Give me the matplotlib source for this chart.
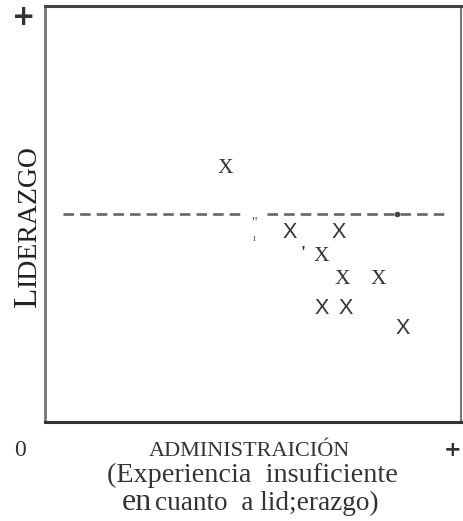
import matplotlib.pyplot as plt

# X marks (data units, 0-10 on both axes)
x_vals = [4.34, 5.88, 7.05, 6.64, 7.15, 8.01, 6.64, 7.22, 8.59]
y_vals = [6.09, 4.56, 4.56, 3.98, 3.43, 3.43, 2.73, 2.73, 2.25]
x_fonts = ['Liberation Serif', 'Liberation Sans', 'Liberation Sans', 'Liberation Serif',
           'Liberation Serif', 'Liberation Serif', 'Liberation Sans', 'Liberation Sans',
           'Liberation Sans']

mid_level = 5.0
line_left = [0.43, 4.82]
line_right = [5.33, 9.61]

W, H = 463, 521
fig = plt.figure(figsize=(W / 100, H / 100), dpi=100)
ax = fig.add_axes([45 / W, (H - 422) / H, 416 / W, 416 / H])
ax.set_xlim(0, 10)
ax.set_ylim(0, 10)
ax.set_xticks([])
ax.set_yticks([])

ax.spines['left'].set_color('#777777')
ax.spines['left'].set_linewidth(2.0)
ax.spines['right'].set_color('#777777')
ax.spines['right'].set_linewidth(1.5)
ax.spines['top'].set_color('#444444')
ax.spines['top'].set_linewidth(2.2)
ax.spines['bottom'].set_color('#333333')
ax.spines['bottom'].set_linewidth(2.2)

# dashed mid line
ax.plot(line_left, [mid_level, mid_level], color='#666666', lw=1.9,
        linestyle=(0, (4, 2.3)))
ax.plot(line_right, [mid_level, mid_level], color='#666666', lw=1.9,
        linestyle=(0, (4, 2.3)))
ax.plot([8.47], [mid_level], marker='o', ms=3, color='#444444')

for x, y, f in zip(x_vals, y_vals, x_fonts):
    ax.text(x, y, 'X', family=f, fontsize=15.5, color='#333333',
            ha='center', va='center')

# scanning artefacts
ax.text(5.03, 4.78, '"', family='Liberation Serif', fontsize=10, color='#555555',
        ha='center', va='center')
ax.text(5.03, 4.4, 'ı', family='Liberation Serif', fontsize=7, color='#555555',
        ha='center', va='center')
ax.text(6.2, 4.02, "'", family='Liberation Serif', fontsize=13, color='#333333',
        ha='center', va='center', fontweight='bold')

# y label in small caps
fig.text(36 / W, (H - 307) / H, 'L', family='Liberation Serif', fontsize=24,
         color='#222222', rotation=90, rotation_mode='anchor',
         ha='left', va='baseline')
fig.text(36 / W, (H - 287) / H, 'IDERAZGO', family='Liberation Serif', fontsize=20,
         color='#222222', rotation=90, rotation_mode='anchor',
         ha='left', va='baseline')

fig.text(24 / W, (H - 17) / H, '+', family='DejaVu Sans', fontsize=20,
         fontweight='bold', color='#333333', ha='center', va='center')
fig.text(453 / W, (H - 450) / H, '+', family='DejaVu Sans', fontsize=15,
         fontweight='bold', color='#333333', ha='center', va='center')
fig.text(20 / W, (H - 451) / H, '0', family='Liberation Serif', fontsize=17,
         color='#333333', ha='center', va='center')

fig.text(249 / W, (H - 451) / H, 'ADMINISTRAICIÓN', family='Liberation Serif',
         fontsize=16, color='#333333', ha='center', va='center')
fig.text(252 / W, (H - 475) / H, '(Experiencia  insuficiente', family='Liberation Serif',
         fontsize=20.3, color='#333333', ha='center', va='center')
fig.text(122 / W, (H - 510) / H, 'en', family='Liberation Serif', fontsize=23,
         color='#333333', ha='left', va='baseline')
fig.text(155 / W, (H - 510) / H, 'cuanto  a lid;erazgo)', family='Liberation Serif',
         fontsize=19.6, color='#333333', ha='left', va='baseline')

fig.savefig('out.png', dpi=100)
